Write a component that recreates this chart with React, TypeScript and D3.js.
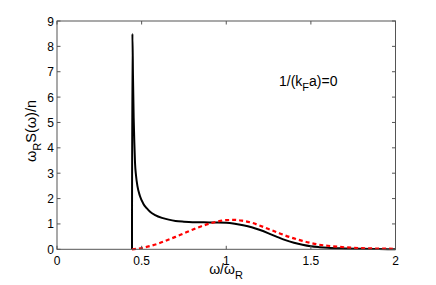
import React from 'react';
import * as d3 from 'd3';

// black: full S(w), red dashed: comparison curve
const blackOmega = [0.443, 0.4455, 0.449, 0.453, 0.457, 0.461, 0.467, 0.475, 0.49, 0.51, 0.53, 0.55, 0.58, 0.62, 0.66, 0.7, 0.75, 0.8, 0.85, 0.9, 0.95, 1.0, 1.05, 1.1, 1.15, 1.2, 1.25, 1.3, 1.35, 1.4, 1.45, 1.5, 1.55, 1.6, 1.7, 1.8, 1.9, 2.0];
const blackS = [0, 8.5, 6.8, 5.2, 4.2, 3.4, 2.9, 2.5, 2.1, 1.8, 1.62, 1.48, 1.35, 1.24, 1.17, 1.12, 1.09, 1.07, 1.065, 1.06, 1.06, 1.05, 1.01, 0.95, 0.87, 0.76, 0.63, 0.49, 0.36, 0.26, 0.18, 0.12, 0.085, 0.06, 0.035, 0.02, 0.01, 0.005];

const redOmega = [0.443, 0.5, 0.55, 0.6, 0.65, 0.7, 0.75, 0.8, 0.85, 0.9, 0.95, 1.0, 1.05, 1.1, 1.15, 1.2, 1.25, 1.3, 1.35, 1.4, 1.45, 1.5, 1.55, 1.6, 1.7, 1.8, 1.9, 2.0];
const redS = [0, 0.05, 0.13, 0.23, 0.36, 0.49, 0.63, 0.77, 0.9, 1.01, 1.1, 1.15, 1.16, 1.12, 1.05, 0.93, 0.8, 0.67, 0.54, 0.43, 0.33, 0.25, 0.18, 0.14, 0.08, 0.045, 0.03, 0.02];

const xTicks = [0, 0.5, 1, 1.5, 2];
const yTicks = [0, 1, 2, 3, 4, 5, 6, 7, 8, 9];

const W = 436;
const H = 285;
const left = 57;
const right = 395.5;
const top = 21;
const bottom = 249.3;

export default function App() {
  const x = d3.scaleLinear().domain([0, 2]).range([left, right]);
  const y = d3.scaleLinear().domain([0, 9]).range([bottom, top]);

  const line = d3
    .line<[number, number]>()
    .x(d => x(d[0]))
    .y(d => y(d[1]))
    .curve(d3.curveMonotoneX);

  const blackPts = blackOmega.map((w, i) => [w, blackS[i]] as [number, number]);
  const redPts = redOmega.map((w, i) => [w, redS[i]] as [number, number]);

  const font = 'Liberation Sans, Arial, Helvetica, sans-serif';
  const axisColor = '#555';

  return (
    <svg
      width={W}
      height={H}
      style={{ position: 'absolute', left: 0, top: 0, background: '#fff' }}
      fontFamily={font}
    >
      <rect x={0} y={0} width={W} height={H} fill="#fff" />
      {/* curves */}
      <path d={line(blackPts) || ''} fill="none" stroke="#000" strokeWidth={2} />
      <path
        d={line(redPts) || ''}
        fill="none"
        stroke="#ff0000"
        strokeWidth={2.2}
        strokeDasharray="4,3"
      />

      {/* box */}
      <rect
        x={left}
        y={top}
        width={right - left}
        height={bottom - top}
        fill="none"
        stroke={axisColor}
        strokeWidth={1}
      />

      {/* x ticks */}
      {xTicks.map(t => (
        <g key={'x' + t}>
          <line x1={x(t)} x2={x(t)} y1={bottom} y2={bottom - 3.5} stroke={axisColor} />
          <line x1={x(t)} x2={x(t)} y1={top} y2={top + 3.5} stroke={axisColor} />
          <text x={x(t)} y={264.5} textAnchor="middle" fontSize={12} fill="#000">
            {t}
          </text>
        </g>
      ))}

      {/* y ticks */}
      {yTicks.map(t => (
        <g key={'y' + t}>
          <line x1={left} x2={left + 3.5} y1={y(t)} y2={y(t)} stroke={axisColor} />
          <line x1={right} x2={right - 3.5} y1={y(t)} y2={y(t)} stroke={axisColor} />
          <text x={left - 3} y={y(t) + 4.5} textAnchor="end" fontSize={12} fill="#000">
            {t}
          </text>
        </g>
      ))}

      {/* x label */}
      <text x={226} y={274} textAnchor="middle" fontSize={14} fill="#000">
        ω/ω<tspan dy={5} fontSize={11}>R</tspan>
      </text>

      {/* y label */}
      <text
        transform="translate(36,131) rotate(-90)"
        textAnchor="middle"
        fontSize={14.5}
        fill="#000"
      >
        ω<tspan dy={5} fontSize={11}>R</tspan>
        <tspan dy={-5}>S(ω)/n</tspan>
      </text>

      {/* annotation */}
      <text x={279} y={85.5} fontSize={14} fill="#000">
        1/(k<tspan dy={5} fontSize={11}>F</tspan>
        <tspan dy={-5}>a)=0</tspan>
      </text>
    </svg>
  );
}
